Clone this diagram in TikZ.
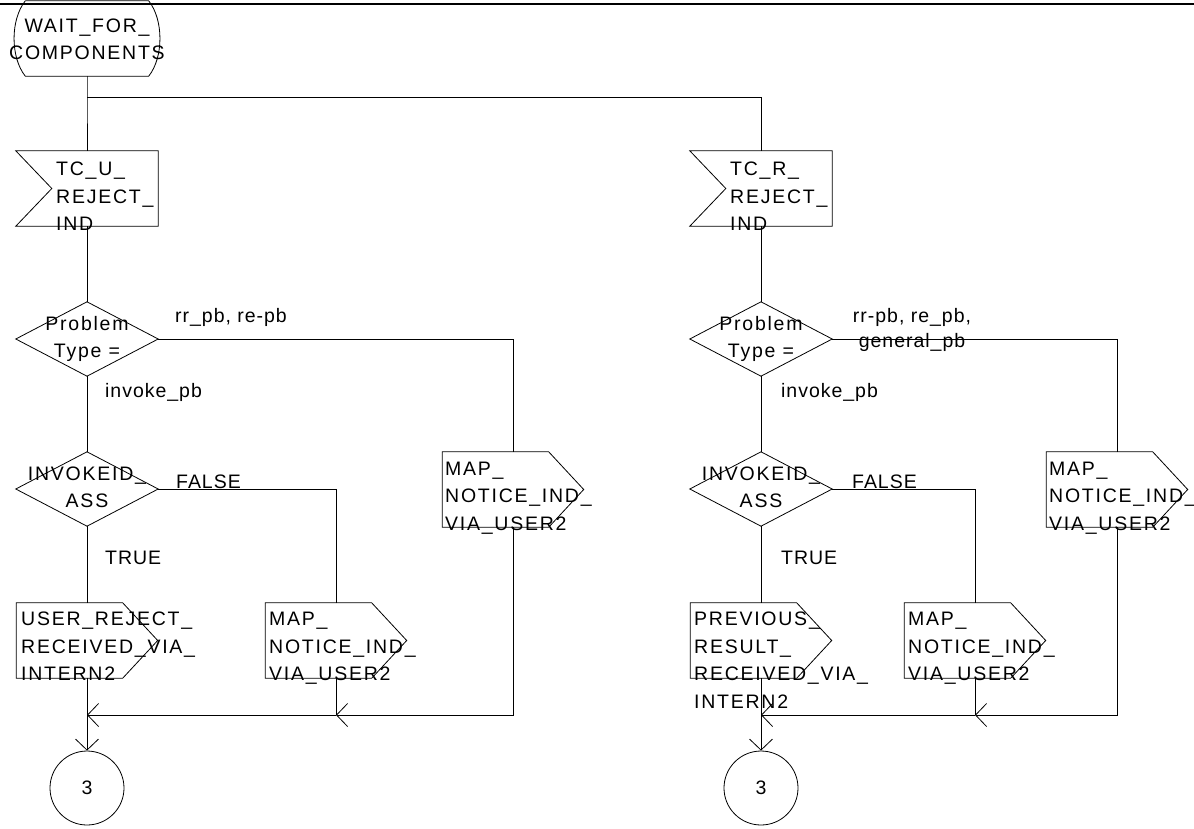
\documentclass[tikz,border=0pt]{standalone}
\usepackage{fontspec}
\setmainfont{Liberation Sans}[LetterSpace=9]
\newfontfamily\labfont{Liberation Sans}[LetterSpace=5]
\usetikzlibrary{arrows.meta,calc}
\newcommand{\fls}{\rule{0pt}{15pt}}
\begin{document}
\begin{tikzpicture}[x=1pt,y=-1pt,
  ln/.style={line width=0.8pt},
  ar/.style={ln,-{Straight Barb[length=11pt,width=23pt,line width=0.8pt]}},
  shp/.style={rectangle,inner sep=0pt,minimum width=#1,minimum height=75pt},
  dia/.style={rectangle,inner sep=0pt,minimum width=142pt,minimum height=74pt},
  tx/.style={inner sep=0pt,font=\fontsize{19.5}{27.5}\selectfont,align=left,anchor=north west},
  txc/.style={tx,align=center,anchor=north},
  lab/.style={inner sep=0pt,font=\labfont\fontsize{19.5}{27.5}\selectfont,anchor=base west},
  conn/.style={circle,draw,ln,minimum size=74pt,inner sep=0pt,font=\fontsize{19.5}{27.5}\selectfont}
]
\useasboundingbox (0,0) rectangle (1194,828);
\coordinate (tl) at (0,4);
\coordinate (tr) at (1194,4);
\draw[line width=2pt] (tl) -- (tr);

% state
\node[shp=123pt] (st) at (87,38.5) {};
\draw[ln] (st.north west) -- (st.north east)
  .. controls +(15,19) and +(15,-19) .. (st.south east) -- (st.south west)
  .. controls +(-15,-19) and +(-15,19) .. (st.north west);
\node[txc] (stt) at (87,17) {\fls WAIT\_FOR\_\\COMPONENTS};

% ---------- left branch ----------
\node[shp=142pt] (in1) at (87,188.5) {};
\draw[ln] (in1.north west) -- (in1.north east) -- (in1.south east) -- (in1.south west)
  -- ($(in1.west)+(36,0)$) -- cycle;
\node[tx] (in1t) at (56,160.5) {\fls TC\_U\_\\REJECT\_\\IND};

\node[dia] (d1) at (87,339) {};
\draw[ln] (d1.north) -- (d1.east) -- (d1.south) -- (d1.west) -- cycle;
\node[txc] (d1t) at (87,315) {\fls Problem\\Type =};

\node[dia] (d2) at (87,489) {};
\draw[ln] (d2.north) -- (d2.east) -- (d2.south) -- (d2.west) -- cycle;
\node[txc] (d2t) at (87,465) {\fls INVOKEID\_\\ASS};

\node[shp=141pt] (o1) at (87,640.5) {};
\draw[ln] (o1.north west) -- ($(o1.north east)+(-35,0)$) -- (o1.east)
  -- ($(o1.south east)+(-35,0)$) -- (o1.south west) -- cycle;
\node[tx] (o1t) at (21,610.5) {\fls USER\_REJECT\_\\RECEIVED\_VIA\_\\INTERN2};

\node[shp=141pt] (o2) at (336,640.5) {};
\draw[ln] (o2.north west) -- ($(o2.north east)+(-35,0)$) -- (o2.east)
  -- ($(o2.south east)+(-35,0)$) -- (o2.south west) -- cycle;
\node[tx] (o2t) at (269,610.5) {\fls MAP\_\\NOTICE\_IND\_\\VIA\_USER2};

\node[shp=141pt] (o3) at (513,489.5) {};
\draw[ln] (o3.north west) -- ($(o3.north east)+(-35,0)$) -- (o3.east)
  -- ($(o3.south east)+(-35,0)$) -- (o3.south west) -- cycle;
\node[tx] (o3t) at (445,460) {\fls MAP\_\\NOTICE\_IND\_\\VIA\_USER2};

\node[conn] (c1) at (87,788) {3};

\node[lab] (l1) at (175,322) {rr\_pb, re-pb};
\node[lab] (l2) at (105,397) {invoke\_pb};
\node[lab] (l3) at (176,488) {FALSE};
\node[lab] (l4) at (105,564) {TRUE};

% ---------- right branch ----------
\node[shp=142pt] (in2) at (761,188.5) {};
\draw[ln] (in2.north west) -- (in2.north east) -- (in2.south east) -- (in2.south west)
  -- ($(in2.west)+(36,0)$) -- cycle;
\node[tx] (in2t) at (730,160.5) {\fls TC\_R\_\\REJECT\_\\IND};

\node[dia] (d3) at (761,339) {};
\draw[ln] (d3.north) -- (d3.east) -- (d3.south) -- (d3.west) -- cycle;
\node[txc] (d3t) at (761,315) {\fls Problem\\Type =};

\node[dia] (d4) at (761,489) {};
\draw[ln] (d4.north) -- (d4.east) -- (d4.south) -- (d4.west) -- cycle;
\node[txc] (d4t) at (761,465) {\fls INVOKEID\_\\ASS};

\node[shp=141pt] (o4) at (761,640.5) {};
\draw[ln] (o4.north west) -- ($(o4.north east)+(-35,0)$) -- (o4.east)
  -- ($(o4.south east)+(-35,0)$) -- (o4.south west) -- cycle;
\node[tx] (o4t) at (694,610.5) {\fls PREVIOUS\_\\RESULT\_\\RECEIVED\_VIA\_\\INTERN2};

\node[shp=141pt] (o5) at (975,640.5) {};
\draw[ln] (o5.north west) -- ($(o5.north east)+(-35,0)$) -- (o5.east)
  -- ($(o5.south east)+(-35,0)$) -- (o5.south west) -- cycle;
\node[tx] (o5t) at (908,610.5) {\fls MAP\_\\NOTICE\_IND\_\\VIA\_USER2};

\node[shp=141pt] (o6) at (1117,489.5) {};
\draw[ln] (o6.north west) -- ($(o6.north east)+(-35,0)$) -- (o6.east)
  -- ($(o6.south east)+(-35,0)$) -- (o6.south west) -- cycle;
\node[tx] (o6t) at (1049,460) {\fls MAP\_\\NOTICE\_IND\_\\VIA\_USER2};

\node[conn] (c2) at (761,788) {3};

\node[txc,font=\labfont\fontsize{19.5}{25}\selectfont] (l5) at (912,307) {\fls rr-pb, re\_pb,\\general\_pb};
\node[lab] (l6) at (781,397) {invoke\_pb};
\node[lab] (l7) at (852,488) {FALSE};
\node[lab] (l8) at (781,564) {TRUE};

% ---------- connectors ----------
\coordinate (j0) at (87,97);
\draw[ln] (st.south) -- (j0) -- (in1.north);
\draw[ln] (j0) -| (in2.north);

\draw[ln] (in1.south) -- (d1.north);
\draw[ln] (d1.south) -- (d2.north);
\draw[ln] (d2.south) -- (o1.north);
\draw[ln] (d2.east) -| (o2.north);
\draw[ln] (d1.east) -| (o3.north);
\coordinate (m1) at (87,715);
\coordinate (m2) at (336,715);
\draw[ar] (o3.south) |- (m2);
\draw[ln] (o2.south) -- (m2);
\draw[ar] (m2) -- (m1);
\draw[ar] (o1.south) -- (c1.north);

\draw[ln] (in2.south) -- (d3.north);
\draw[ln] (d3.south) -- (d4.north);
\draw[ln] (d4.south) -- (o4.north);
\draw[ln] (d4.east) -| (o5.north);
\draw[ln] (d3.east) -| (o6.north);
\coordinate (m3) at (761,715);
\coordinate (m4) at (975,715);
\draw[ar] (o6.south) |- (m4);
\draw[ln] (o5.south) -- (m4);
\draw[ar] (m4) -- (m3);
\draw[ar] (o4.south) -- (c2.north);
\end{tikzpicture}
\end{document}
